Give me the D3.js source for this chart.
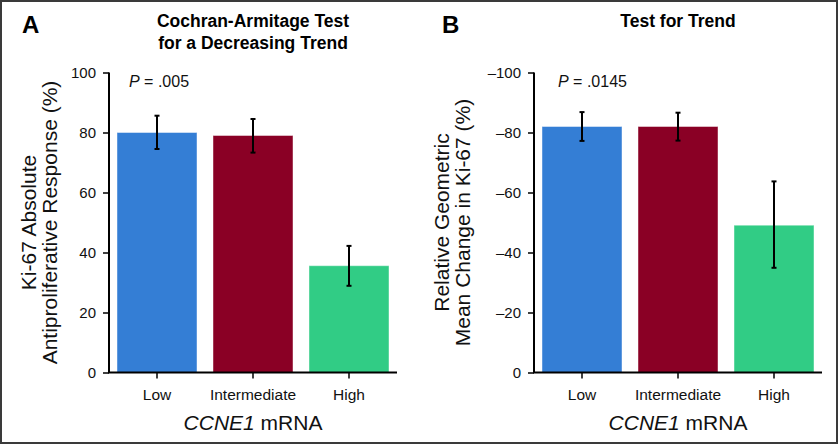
<!DOCTYPE html>
<html>
<head>
<meta charset="utf-8">
<script src="https://cdn.jsdelivr.net/npm/d3@7"></script>
<style>
  body { margin: 0; background: #fff; }
  svg { display: block; font-family: "Liberation Sans", Arial, Helvetica, sans-serif; }
  .axis path, .axis line { stroke: #000; }
  .axis path { stroke-width: 2; }
  .axis line { stroke-width: 1.5; }
  .axis text { fill: #111; }
</style>
</head>
<body>
<svg id="chart" width="839" height="445"></svg>
<script>
const categories = ["Low", "Intermediate", "High"];
const barColors = ["#347ed5", "#8a0025", "#31cc85"];

// panel A: Ki-67 absolute antiproliferative response (%)
const responseA = [80, 79, 35.6];
const lowerA = [74.5, 73.3, 28.9];
const upperA = [85.6, 84.5, 42.2];
const ticksA = [0, 20, 40, 60, 80, 100];

// panel B: relative geometric mean change in Ki-67 (%)
const changeB = [-82, -82, -49.1];
const lowerB = [-77.2, -77.3, -34.9];
const upperB = [-86.8, -86.6, -63.7];
const ticksB = [0, -20, -40, -60, -80, -100];

const svg = d3.select("#chart");

// frame round the figure
svg.append("rect")
    .attr("x", 1).attr("y", 1)
    .attr("width", 836).attr("height", 442)
    .attr("fill", "none")
    .attr("stroke", "#3a3a3a")
    .attr("stroke-width", 2);

const plotTop = 72.5, plotBottom = 372.5, plotWidth = 288;
const fmt = (d) => (d < 0 ? "\u2013" + Math.abs(d) : String(d));

const panels = [
  {
    letter: "A", left: 109, letterX: 22,
    title: ["Cochran-Armitage Test", "for a Decreasing Trend"],
    ylabel: [["Ki-67 Absolute", -73], ["Antiproliferative Response (%)", -52]],
    domain: [0, 100], ticks: ticksA,
    values: responseA, lower: lowerA, upper: upperA,
    pText: ".005", pX: 20
  },
  {
    letter: "B", left: 534, letterX: 442,
    title: ["Test for Trend"],
    ylabel: [["Relative Geometric", -85], ["Mean Change in Ki-67 (%)", -64]],
    domain: [0, -100], ticks: ticksB,
    values: changeB, lower: lowerB, upper: upperB,
    pText: ".0145", pX: 24
  }
];

panels.forEach(function (p) {
  const x = d3.scaleBand()
      .domain(categories)
      .range([p.left, p.left + plotWidth])
      .paddingInner(1 / 6)
      .paddingOuter(1 / 12);
  const y = d3.scaleLinear()
      .domain(p.domain)
      .range([plotBottom, plotTop]);
  const cx = p.left + plotWidth / 2;

  // panel letter and title
  svg.append("text")
      .attr("x", p.letterX).attr("y", 33)
      .attr("font-size", 24).attr("font-weight", "bold")
      .text(p.letter);
  p.title.forEach(function (line, i) {
    svg.append("text")
        .attr("x", cx).attr("y", 27 + i * 22)
        .attr("text-anchor", "middle")
        .attr("font-size", 17.5).attr("font-weight", "bold")
        .text(line);
  });

  // bars
  const g = svg.append("g");
  g.selectAll("rect")
      .data(categories)
      .enter().append("rect")
      .attr("x", (d) => x(d))
      .attr("width", x.bandwidth())
      .attr("y", (d, i) => Math.min(y(p.values[i]), y(0)))
      .attr("height", (d, i) => Math.abs(y(0) - y(p.values[i])))
      .attr("fill", (d, i) => barColors[i])
      .attr("stroke", "rgba(255,255,255,0.45)")
      .attr("stroke-width", 1);

  // error bars
  const err = g.selectAll(".err")
      .data(categories)
      .enter().append("g")
      .attr("class", "err")
      .attr("stroke", "#000")
      .attr("stroke-width", 2);
  err.append("line")
      .attr("x1", (d) => x(d) + x.bandwidth() / 2)
      .attr("x2", (d) => x(d) + x.bandwidth() / 2)
      .attr("y1", (d, i) => y(p.lower[i]))
      .attr("y2", (d, i) => y(p.upper[i]));
  [p.lower, p.upper].forEach(function (arr) {
    err.append("line")
        .attr("x1", (d) => x(d) + x.bandwidth() / 2 - 2.5)
        .attr("x2", (d) => x(d) + x.bandwidth() / 2 + 2.5)
        .attr("y1", (d, i) => y(arr[i]))
        .attr("y2", (d, i) => y(arr[i]));
  });

  // axes
  svg.append("g")
      .attr("class", "axis")
      .attr("transform", "translate(" + p.left + ",0)")
      .call(d3.axisLeft(y).tickValues(p.ticks).tickFormat(fmt).tickSize(6).tickPadding(7).tickSizeOuter(0))
      .call((s) => s.selectAll("text").attr("font-size", 15))
      .call((s) => s.select(".domain").attr("d", "M0," + plotTop + "V" + plotBottom));
  svg.append("g")
      .attr("class", "axis")
      .attr("transform", "translate(0," + plotBottom + ")")
      .call(d3.axisBottom(x).tickSize(6).tickPadding(10).tickSizeOuter(0))
      .call((s) => s.selectAll("text").attr("font-size", 15.5))
      .call((s) => s.select(".domain").attr("d", "M" + (p.left - 1) + ",0H" + (p.left + plotWidth)));

  // y label, two lines
  p.ylabel.forEach(function (l) {
    svg.append("text")
        .attr("transform", "translate(" + (p.left + l[1]) + "," + ((plotTop + plotBottom) / 2) + ") rotate(-90)")
        .attr("text-anchor", "middle")
        .attr("font-size", 21)
        .attr("fill", "#111")
        .text(l[0]);
  });

  // x label
  const xl = svg.append("text")
      .attr("x", cx).attr("y", 430)
      .attr("text-anchor", "middle")
      .attr("font-size", 21)
      .attr("fill", "#111");
  xl.append("tspan").attr("font-style", "italic").text("CCNE1");
  xl.append("tspan").text(" mRNA");

  // P value
  const pt = svg.append("text")
      .attr("x", p.left + p.pX).attr("y", 86.5)
      .attr("font-size", 16)
      .attr("fill", "#111");
  pt.append("tspan").attr("font-style", "italic").text("P");
  pt.append("tspan").text(" = " + p.pText);
});
</script>
</body>
</html>
